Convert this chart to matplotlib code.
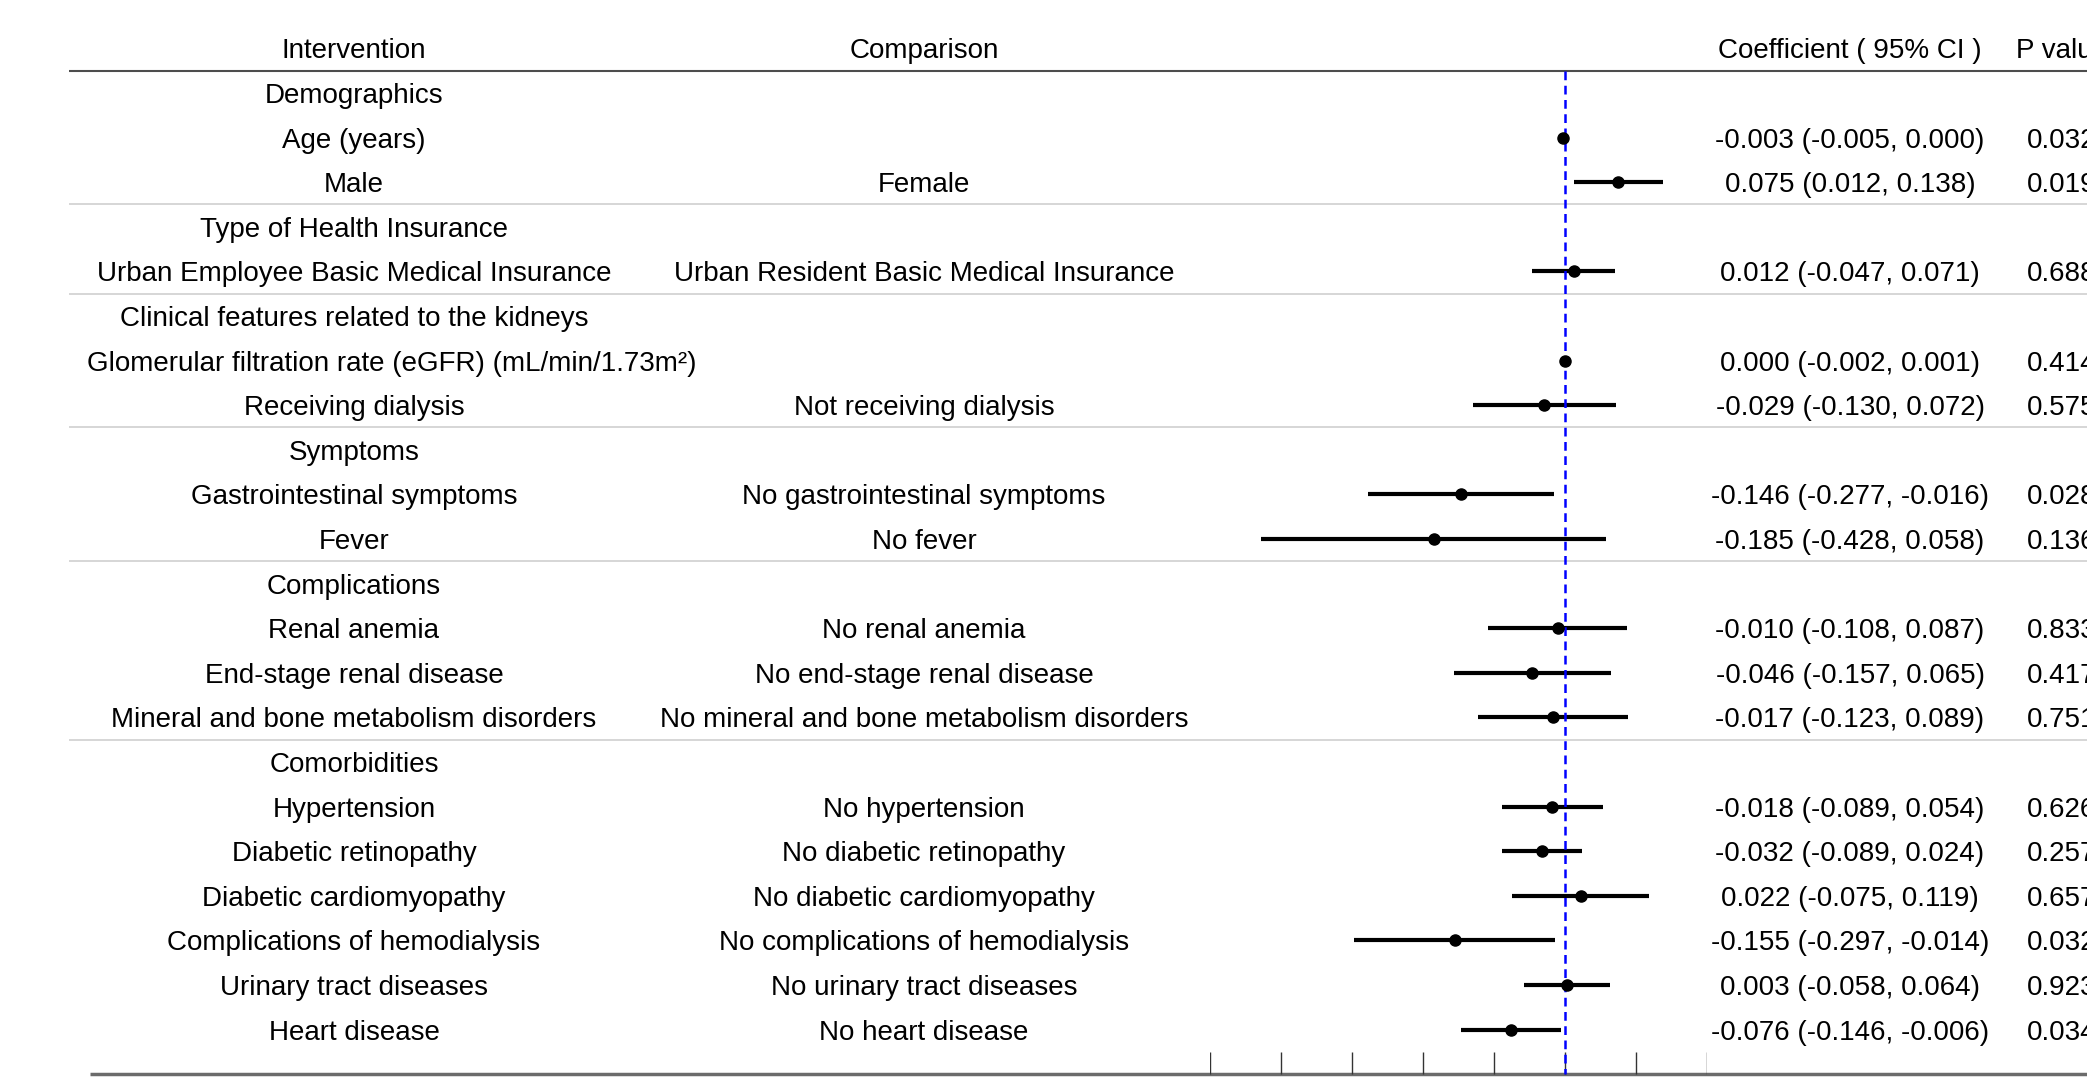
import matplotlib
matplotlib.use("Agg")
import matplotlib.pyplot as plt
import numpy as np

# Table contents
intervention = [
    "Demographics", "Age (years)", "Male",
    "Type of Health Insurance", "Urban Employee Basic Medical Insurance",
    "Clinical features related to the kidneys",
    "Glomerular filtration rate (eGFR) (mL/min/1.73m²)", "Receiving dialysis",
    "Symptoms", "Gastrointestinal symptoms", "Fever",
    "Complications", "Renal anemia", "End-stage renal disease",
    "Mineral and bone metabolism disorders",
    "Comorbidities", "Hypertension", "Diabetic retinopathy",
    "Diabetic cardiomyopathy", "Complications of hemodialysis",
    "Urinary tract diseases", "Heart disease",
]
comparison = [
    "", "", "Female",
    "", "Urban Resident Basic Medical Insurance",
    "",
    "", "Not receiving dialysis",
    "", "No gastrointestinal symptoms", "No fever",
    "", "No renal anemia", "No end-stage renal disease",
    "No mineral and bone metabolism disorders",
    "", "No hypertension", "No diabetic retinopathy",
    "No diabetic cardiomyopathy", "No complications of hemodialysis",
    "No urinary tract diseases", "No heart disease",
]
nan = np.nan
coef = [nan, -0.003, 0.075, nan, 0.012, nan, 0.000, -0.029, nan, -0.146, -0.185,
        nan, -0.010, -0.046, -0.017, nan, -0.018, -0.032, 0.022, -0.155, 0.003, -0.076]
lower = [nan, -0.005, 0.012, nan, -0.047, nan, -0.002, -0.130, nan, -0.277, -0.428,
         nan, -0.108, -0.157, -0.123, nan, -0.089, -0.089, -0.075, -0.297, -0.058, -0.146]
upper = [nan, 0.000, 0.138, nan, 0.071, nan, 0.001, 0.072, nan, -0.016, 0.058,
         nan, 0.087, 0.065, 0.089, nan, 0.054, 0.024, 0.119, -0.014, 0.064, -0.006]
p_values = ["", "0.032", "0.019", "", "0.688", "", "0.414", "0.575", "", "0.028", "0.136",
            "", "0.833", "0.417", "0.751", "", "0.626", "0.257", "0.657", "0.032", "0.923", "0.034"]
group_ends = [2, 4, 7, 10, 14]          # separator after these rows
x_ticks = [-0.5, -0.4, -0.3, -0.2, -0.1, 0.0, 0.1, 0.2]

headers = ["Intervention", "Comparison", "Coefficient ( 95% CI )", "P value"]

W, H = 2087, 1084
plt.rcParams["font.family"] = ["Liberation Sans", "DejaVu Sans"]
fig = plt.figure(figsize=(W / 100, H / 100), dpi=100)

# vertical layout: row index -> pixel rows
row_h, y0 = 44.6, 93
top, bottom = -y0 / row_h, (H - y0) / row_h
n = len(intervention)

tab = fig.add_axes([0, 0, 1, 1])
tab.set_xlim(0, W)
tab.set_ylim(bottom, top)
tab.axis("off")

# column centres in pixels
col_int, col_cmp, col_ci, col_p = 354, 924, 1850, 2062
fs = 20

for x, h in zip([col_int, col_cmp, col_ci, col_p], headers):
    tab.text(x, -1, h, ha="center", va="center_baseline", fontsize=fs)

for i in range(n):
    label = intervention[i]
    if "eGFR" in label:
        # widest label sits flush with the column's left edge
        tab.text(87, i, label, ha="left", va="center_baseline", fontsize=fs)
    else:
        tab.text(col_int, i, label, ha="center", va="center_baseline", fontsize=fs)
    if comparison[i]:
        tab.text(col_cmp, i, comparison[i], ha="center", va="center_baseline", fontsize=fs)
    if not np.isnan(coef[i]):
        ci = f"{coef[i]:.3f} ({lower[i]:.3f}, {upper[i]:.3f})"
        tab.text(col_ci, i, ci, ha="center", va="center_baseline", fontsize=fs)
        tab.text(col_p, i, p_values[i], ha="center", va="center_baseline", fontsize=fs)

# rules
tab.hlines(-0.5, 69, W, color="#4d4d4d", lw=1.5)
tab.hlines([g + 0.5 for g in group_ends], 69, W, color="#cfcfcf", lw=1.2)
tab.hlines(n, 90, W, color="#6b6b6b", lw=2.5)

# forest panel
fa = fig.add_axes([1210 / W, 0, 497 / W, 1])
fa.set_xlim(-0.5, 0.2)
fa.set_ylim(bottom, top)
fa.axis("off")

fa.plot([0, 0], [-0.5, n], color="blue", lw=1.8, ls=(0, (3.5, 2.2)), zorder=3)
for i in range(n):
    if np.isnan(coef[i]):
        continue
    fa.plot([lower[i], upper[i]], [i, i], color="black", lw=3, solid_capstyle="butt", zorder=2)
    fa.plot(coef[i], i, "o", color="black", ms=8, zorder=4)

fa.vlines(x_ticks, n - 0.5, n, color="#333333", lw=1)

fig.savefig("out.png", dpi=100)
